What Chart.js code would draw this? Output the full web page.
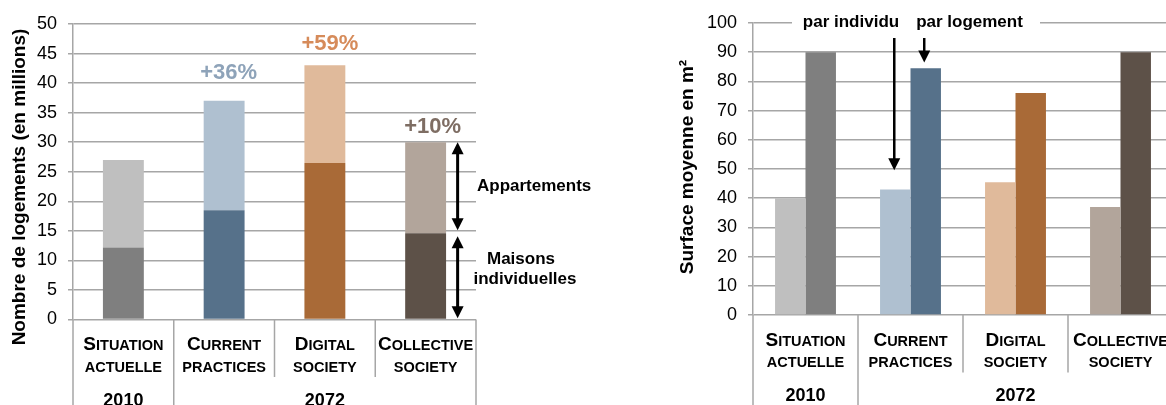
<!DOCTYPE html>
<html>
<head>
<meta charset="utf-8">
<script src="https://cdn.jsdelivr.net/npm/chart.js@4.4.1/dist/chart.umd.min.js"></script>
<style>
  body { margin: 0; background: #fff; overflow: hidden; width: 1166px; height: 405px; position: relative; }
  .box { position: absolute; top: 0; height: 405px; }
  #left { left: 0; width: 600px; }
  #right { left: 600px; width: 580px; }
</style>
</head>
<body>
<div class="box" id="left"><canvas id="logements" width="600" height="405"></canvas></div>
<div class="box" id="right"><canvas id="surface" width="580" height="405"></canvas></div>
<script>
// data
const categories = [['Situation', 'actuelle'], ['Current', 'practices'], ['Digital', 'society'], ['Collective', 'society']];
const yearGroups = [{ label: '2010', from: 0, to: 0 }, { label: '2072', from: 1, to: 3 }];
const maisons = [12.2, 18.5, 26.5, 14.6];
const appartements = [14.8, 18.5, 16.5, 15.4];
const growth = ['', '+36%', '+59%', '+10%'];
const surfaceIndividu = [40, 43, 45.5, 37];
const surfaceLogement = [90, 84.5, 76, 90];
const ticksLogements = [0, 5, 10, 15, 20, 25, 30, 35, 40, 45, 50];
const ticksSurface = [0, 10, 20, 30, 40, 50, 60, 70, 80, 90, 100];

const lightColors = ['#bfbfbf', '#afc0d0', '#e0ba9b', '#b2a59b'];
const darkColors = ['#7f7f7f', '#56718a', '#a96a37', '#5d5148'];
const growthColors = ['#000', '#8ea3b9', '#d68b5a', '#7e6d63'];
const GRID = '#a6a6a6';
const FONT = "'Liberation Sans', Arial, sans-serif";

Chart.defaults.font.family = FONT;

function drawYTitle(ctx, text, cx, cy) {
  ctx.save();
  ctx.translate(cx, cy);
  ctx.rotate(-Math.PI / 2);
  ctx.font = 'bold 19px ' + FONT;
  ctx.fillStyle = '#000';
  ctx.textAlign = 'center';
  ctx.textBaseline = 'middle';
  ctx.fillText(text, 0, 0);
  ctx.restore();
}

function drawSmallCaps(ctx, text, cx, baseline, bigFirst) {
  const big = 'bold 19px ' + FONT;
  const small = 'bold 14.5px ' + FONT;
  const first = bigFirst ? text[0].toUpperCase() : '';
  const rest = (bigFirst ? text.slice(1) : text).toUpperCase();
  ctx.font = big;
  const w1 = first ? ctx.measureText(first).width : 0;
  ctx.font = small;
  const w2 = ctx.measureText(rest).width;
  const x0 = cx - (w1 + w2) / 2;
  ctx.textAlign = 'left';
  ctx.textBaseline = 'alphabetic';
  ctx.fillStyle = '#000';
  if (first) {
    ctx.font = big;
    ctx.fillText(first, x0, baseline);
  }
  ctx.font = small;
  ctx.fillText(rest, x0 + w1, baseline);
}

function drawCategoryAxis(chart) {
  const { ctx, chartArea: a } = chart;
  const n = categories.length;
  const w = (a.right - a.left) / n;
  const groupEdges = new Set();
  yearGroups.forEach(g => { groupEdges.add(g.from); groupEdges.add(g.to + 1); });

  ctx.strokeStyle = GRID;
  ctx.lineWidth = 1.5;
  for (let i = 0; i <= n; i++) {
    const xx = a.left + i * w;
    ctx.beginPath();
    ctx.moveTo(xx, a.bottom);
    ctx.lineTo(xx, groupEdges.has(i) ? chart.height : a.bottom + 57.5);
    ctx.stroke();
  }
  categories.forEach((c, i) => {
    const cx = a.left + (i + 0.5) * w;
    drawSmallCaps(ctx, c[0], cx, a.bottom + 30.5, true);
    drawSmallCaps(ctx, c[1], cx, a.bottom + 52, false);
  });
  ctx.font = 'bold 18px ' + FONT;
  ctx.textAlign = 'center';
  ctx.textBaseline = 'alphabetic';
  ctx.fillStyle = '#000';
  yearGroups.forEach(g => {
    const cx = a.left + ((g.from + g.to + 1) / 2) * w;
    ctx.fillText(g.label, cx, a.bottom + 86);
  });
}

function drawArrow(ctx, x, y1, y2, headTop, headBottom, lw, hw, hl) {
  ctx.save();
  ctx.strokeStyle = '#000';
  ctx.fillStyle = '#000';
  ctx.lineWidth = lw;
  ctx.beginPath();
  ctx.moveTo(x, headTop ? y1 + hl - 1 : y1);
  ctx.lineTo(x, headBottom ? y2 - hl + 1 : y2);
  ctx.stroke();
  if (headTop) {
    ctx.beginPath();
    ctx.moveTo(x, y1);
    ctx.lineTo(x - hw / 2, y1 + hl);
    ctx.lineTo(x + hw / 2, y1 + hl);
    ctx.closePath();
    ctx.fill();
  }
  if (headBottom) {
    ctx.beginPath();
    ctx.moveTo(x, y2);
    ctx.lineTo(x - hw / 2, y2 - hl);
    ctx.lineTo(x + hw / 2, y2 - hl);
    ctx.closePath();
    ctx.fill();
  }
  ctx.restore();
}

function yScale(max, ticks, width) {
  return {
    min: 0,
    max: max,
    afterBuildTicks: s => { s.ticks = ticks.map(v => ({ value: v })); },
    ticks: { color: '#000', font: { size: 18 }, padding: 11 },
    grid: { color: GRID, lineWidth: 1.5, tickLength: 5 },
    border: { display: true, color: GRID, width: 1.5 },
    afterFit: s => { s.width = width; }
  };
}

function xScale(height, stacked) {
  return {
    stacked: stacked,
    ticks: { display: false },
    grid: { display: false },
    border: { display: false },
    afterFit: s => { s.height = height; }
  };
}

const leftDecor = {
  id: 'leftDecor',
  afterDraw(chart) {
    const { ctx, scales: { x, y } } = chart;
    ctx.save();
    drawYTitle(ctx, 'Nombre de logements (en millions)', 20, 187);
    drawCategoryAxis(chart);

    ctx.font = 'bold 22px ' + FONT;
    ctx.textAlign = 'center';
    ctx.textBaseline = 'middle';
    const lift = [0, 28, 21.5, 15];
    const shift = [0, 4.5, 5, 7];
    growth.forEach((g, i) => {
      if (!g) return;
      const top = y.getPixelForValue(maisons[i] + appartements[i]);
      ctx.fillStyle = growthColors[i];
      ctx.fillText(g, x.getPixelForValue(i) + shift[i], top - lift[i]);
    });

    const ax = x.getPixelForValue(3) + 32;
    drawArrow(ctx, ax, y.getPixelForValue(maisons[3] + appartements[3]), y.getPixelForValue(15.1), true, true, 3, 12, 12);
    drawArrow(ctx, ax, y.getPixelForValue(14.1), y.getPixelForValue(0.2), true, true, 3, 12, 12);

    ctx.fillStyle = '#000';
    ctx.font = 'bold 17px ' + FONT;
    ctx.textAlign = 'left';
    ctx.fillText('Appartements', 477, 186);
    ctx.textAlign = 'center';
    ctx.fillText('Maisons', 521, 259);
    ctx.fillText('individuelles', 525, 279);
    ctx.restore();
  }
};

const rightDecor = {
  id: 'rightDecor',
  afterDraw(chart) {
    const { ctx, chartArea: a, scales: { y } } = chart;
    ctx.save();
    drawYTitle(ctx, 'Surface moyenne en m²', 88, 167);
    drawCategoryAxis(chart);

    // legend text sits on the top gridline
    ctx.fillStyle = '#fff';
    ctx.fillRect(192, a.top - 3, 248, 6);
    ctx.fillStyle = '#000';
    ctx.font = 'bold 17px ' + FONT;
    ctx.textAlign = 'center';
    ctx.textBaseline = 'middle';
    ctx.fillText('par individu', 251, 22);
    ctx.fillText('par logement', 369.5, 22);

    const indiv = chart.getDatasetMeta(0).data[1];
    const loge = chart.getDatasetMeta(1).data[1];
    drawArrow(ctx, indiv.x - 1, a.top + 15, y.getPixelForValue(49.6), false, true, 2.5, 12, 12);
    drawArrow(ctx, loge.x - 1.5, a.top + 15, y.getPixelForValue(86.5), false, true, 2.5, 12, 12);
    ctx.restore();
  }
};

new Chart(document.getElementById('logements'), {
  type: 'bar',
  data: {
    labels: categories,
    datasets: [
      { label: 'Maisons individuelles', data: maisons, backgroundColor: darkColors },
      { label: 'Appartements', data: appartements, backgroundColor: lightColors }
    ]
  },
  options: {
    responsive: false,
    animation: false,
    events: [],
    barPercentage: 0.406,
    categoryPercentage: 1,
    layout: { padding: { top: 24, right: 124, left: 0, bottom: 0 } },
    plugins: { legend: { display: false }, tooltip: { enabled: false } },
    scales: {
      x: xScale(85.5, true),
      y: Object.assign(yScale(50, ticksLogements, 73), { stacked: true })
    }
  },
  plugins: [leftDecor]
});

new Chart(document.getElementById('surface'), {
  type: 'bar',
  data: {
    labels: categories,
    datasets: [
      { label: 'par individu', data: surfaceIndividu, backgroundColor: lightColors },
      { label: 'par logement', data: surfaceLogement, backgroundColor: darkColors }
    ]
  },
  options: {
    responsive: false,
    animation: false,
    events: [],
    barPercentage: 1,
    categoryPercentage: 0.58,
    layout: { padding: { top: 23, right: 7, left: 0, bottom: 0 } },
    plugins: { legend: { display: false }, tooltip: { enabled: false } },
    scales: {
      x: xScale(90, false),
      y: yScale(100, ticksSurface, 153)
    }
  },
  plugins: [rightDecor]
});
</script>
</body>
</html>
